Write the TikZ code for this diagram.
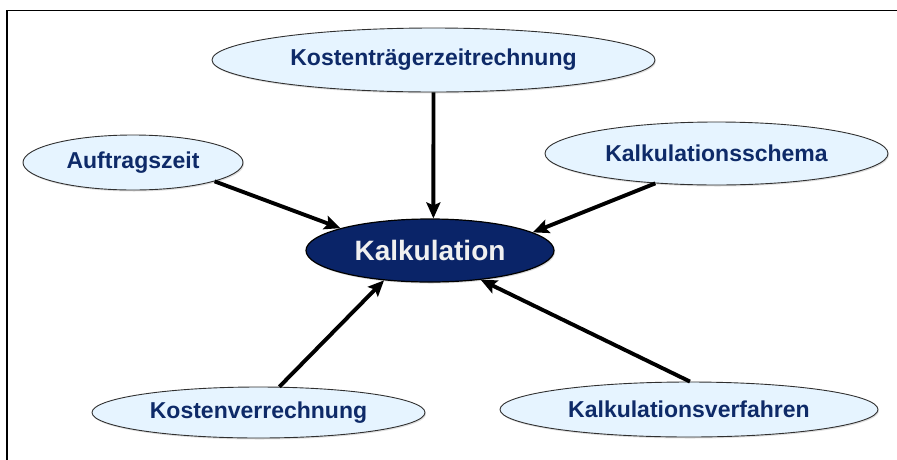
\documentclass[tikz,border=0pt]{standalone}
\usepackage{fontspec}
\setmainfont{Liberation Sans}
\usetikzlibrary{shapes.geometric,arrows.meta,shadows}
\definecolor{navytext}{HTML}{0E2A68}
\definecolor{navyfill}{HTML}{0A2468}
\definecolor{lightfill}{HTML}{E6F4FF}
\definecolor{rimgray}{HTML}{303030}
\begin{document}
\begin{tikzpicture}[x=1pt,y=-1pt,
  leaf/.style={ellipse,draw=rimgray,line width=0.9pt,fill=lightfill,inner sep=0pt,
    text=navytext,font=\fontsize{23}{27}\selectfont\bfseries,
    drop shadow={opacity=0.25,shadow xshift=1pt,shadow yshift=-1.5pt}},
  hub/.style={ellipse,draw=black,line width=1.2pt,fill=navyfill,inner sep=0pt,
    text=white!94!black,font=\fontsize{28}{32}\selectfont\bfseries,
    drop shadow={opacity=0.3,shadow xshift=1pt,shadow yshift=-1.5pt}},
  arr/.style={line width=3.9pt,draw=black,-{Stealth[length=16pt,width=14pt,inset=3pt]}}]
\useasboundingbox (0,0) rectangle (897,459);
% frame
\draw[line width=1.8pt] (7,470) -- (7,10.5) -- (905,10.5);
% nodes
\node[hub,minimum width=248pt,minimum height=63pt] (ka) at (430,250.5) {Kalkulation};
\node[leaf,minimum width=443pt,minimum height=64pt] (kz) at (433.5,60) {Kostenträgerzeitrechnung};
\node[leaf,minimum width=220pt,minimum height=55pt] (au) at (133,162.5) {Auftragszeit};
\node[leaf,minimum width=343pt,minimum height=63pt] (ks) at (716.5,153.5) {Kalkulationsschema};
\node[leaf,minimum width=333pt,minimum height=51pt] (kv) at (258.5,412.5) {Kostenverrechnung};
\node[leaf,minimum width=378pt,minimum height=55pt] (kf) at (689,409.5) {Kalkulationsverfahren};
% connectors
\draw[arr] (kz.-90) -- (ka.84);
\draw[arr] (au.-13.7) -- (ka.166);
\draw[arr] (ks.206.5) -- (ka.10.8);
\draw[arr] (kv.51.5) -- (ka.213.2);
\draw[arr] (kf.88) -- (ka.-30.5);
\end{tikzpicture}
\end{document}
